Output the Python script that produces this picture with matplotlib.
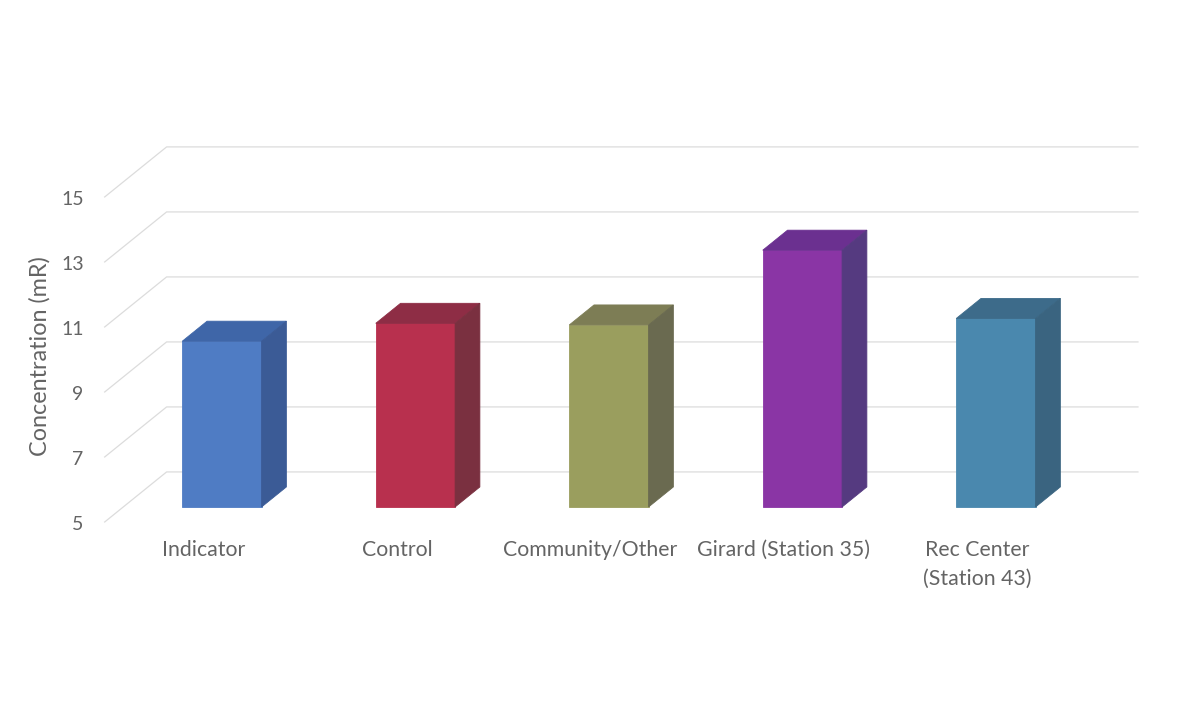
import matplotlib.pyplot as plt
from matplotlib.patches import Polygon

categories = ["Indicator", "Control", "Community/Other", "Girard (Station 35)", "Rec Center\n(Station 43)"]
values = [10.1, 10.65, 10.6, 12.9, 10.8]
yticks = [5, 7, 9, 11, 13, 15]

# front / top / side face colours for each bar
front_colors = ["#4f7cc4", "#b8304e", "#9a9e5e", "#8a35a5", "#4a88ae"]
top_colors = ["#3f66a8", "#8e2d45", "#7d7d55", "#6b3090", "#3d6b8a"]
side_colors = ["#3b5b96", "#7a3040", "#6a6a50", "#553a80", "#3a6480"]

plt.rcParams['font.family'] = ['Lato', 'DejaVu Sans']

# oblique depth offset (data units for full floor depth)
DX = 0.32
DY = 1.54
BASE = 5
BAR_W = 0.41
D0, D1 = 0.3, 0.7   # bar depth span as fraction of floor depth
FLOOR_L, FLOOR_R = -0.51, 4.51
GRID = "#dcdcdc"
TXT = "#646464"


def proj(x, v, d):
    return x + DX * d, v + DY * d


fig = plt.figure(figsize=(11.84, 7.25), dpi=100)
ax = fig.add_axes([0, 0, 1, 1])
ax.set_xlim(-1.051, 5.068)
ax.set_ylim(-1.246, 21.06)
ax.axis('off')

# back wall gridlines and the diagonal stubs on the left
for t in yticks:
    x0, y0 = proj(FLOOR_L, t, 0)
    x1, y1 = proj(FLOOR_L, t, 1)
    x2, y2 = proj(FLOOR_R, t, 1)
    ax.plot([x0, x1, x2], [y0, y1, y2], color=GRID, lw=0.9, zorder=1)
    ax.annotate(str(t), (x0, y0), xytext=(-21, -3), textcoords='offset pixels',
                ha='right', va='center', fontsize=14, color=TXT)

# bars drawn as front, top and side faces
for i, (v, fc, tc, sc) in enumerate(zip(values, front_colors, top_colors, side_colors)):
    xl = i - BAR_W / 2
    xr = i + BAR_W / 2
    fl_b = proj(xl, BASE, D0)
    fr_b = proj(xr, BASE, D0)
    fl_t = proj(xl, v, D0)
    fr_t = proj(xr, v, D0)
    bl_t = proj(xl, v, D1)
    br_t = proj(xr, v, D1)
    br_b = proj(xr, BASE, D1)
    ax.add_patch(Polygon([fl_b, fr_b, fr_t, fl_t], closed=True, facecolor=fc,
                         edgecolor=fc, lw=0.6, zorder=3))
    ax.add_patch(Polygon([fl_t, fr_t, br_t, bl_t], closed=True, facecolor=tc,
                         edgecolor=tc, lw=0.6, zorder=3))
    ax.add_patch(Polygon([fr_b, br_b, br_t, fr_t], closed=True, facecolor=sc,
                         edgecolor=sc, lw=0.6, zorder=3))

# category labels under the floor
for i, name in enumerate(categories):
    ax.annotate(name, (i, BASE), xytext=(0, -18), textcoords='offset pixels',
                ha='center', va='top', fontsize=15.3, color=TXT, linespacing=1.55)

ax.text(-0.845, 10.1, "Concentration (mR)", rotation=90, ha='center', va='center',
        fontsize=16.8, color=TXT)

fig.savefig("out.png", dpi=100)
